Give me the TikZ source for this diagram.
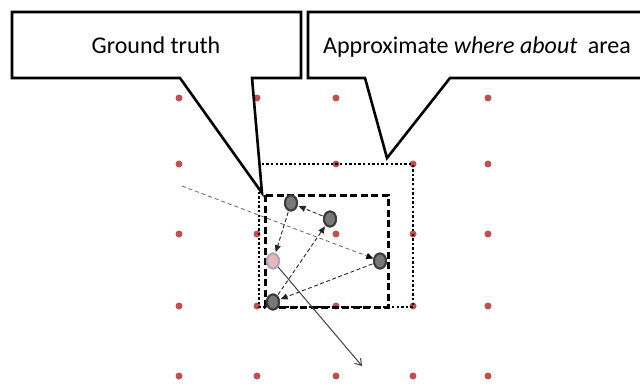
\documentclass[tikz,border=0pt]{standalone}
\usepackage{fontspec}
\setmainfont{Carlito}
\usetikzlibrary{shapes.geometric,arrows.meta}
\definecolor{dotred}{RGB}{192,80,77}
\definecolor{nodegray}{RGB}{120,120,120}
\definecolor{nodeedge}{RGB}{60,60,60}
\definecolor{pinkfill}{RGB}{230,185,184}
\definecolor{lavender}{RGB}{179,162,199}
\tikzset{
  reddot/.style={circle,fill=dotred,inner sep=0pt,minimum size=7pt},
  graynode/.style={ellipse,draw=nodeedge,fill=nodegray,line width=2pt,inner sep=0pt,minimum width=12pt,minimum height=15pt},
  pinknode/.style={ellipse,draw=lavender,fill=pinkfill,line width=2pt,inner sep=0pt,minimum width=12pt,minimum height=15pt},
  dasharrow/.style={draw=black!85,line width=0.9pt,dash pattern=on 4pt off 2.5pt,-{Triangle[length=7pt,width=6pt]},shorten >=1pt,shorten <=1pt},
  longdash/.style={draw=black!60,line width=0.8pt,dash pattern=on 4pt off 3pt,-{Triangle[length=7pt,width=6pt,color=black]}},
  solidarrow/.style={draw=black!75,line width=1pt,-{Straight Barb[length=6pt,width=8pt]}},
  callout/.style={draw=black,fill=white,line width=2.6pt,line join=miter},
  labeltext/.style={font=\fontsize{24}{28}\selectfont,inner sep=0pt,anchor=base},
}
\begin{document}
\begin{tikzpicture}[x=1pt,y=-1pt]
\useasboundingbox (0,0) rectangle (640,383);
\begin{scope}
\clip (0,0) rectangle (640,383);
% grid of red dots
\foreach \gx [count=\i] in {179,257,336,413,488}{
  \foreach \gy [count=\j] in {98,164,234,306,376}{
    \node[reddot] (d\i\j) at (\gx,\gy) {};
  }
}
% dotted area
\draw[line width=2.8pt,dash pattern=on 2.4pt off 2.2pt] (259,164) rectangle (413,307);
% dashed area
\draw[line width=3pt,dash pattern=on 7pt off 3.5pt] (265,195) rectangle (388,307);
% nodes
\node[graynode] (A) at (291,203) {};
\node[graynode] (B) at (330,219) {};
\node[graynode] (C) at (380,261) {};
\node[graynode] (D) at (273,302) {};
\node[pinknode] (P) at (273,261) {};
\coordinate (s) at (182,186);
\coordinate (e) at (362,366);
% connectors
\draw[longdash] (s) -- (C);
\draw[dasharrow] (B) -- (A);
\draw[dasharrow] (A) -- (P);
\draw[dasharrow] (D) -- (B);
\draw[dasharrow] (C) -- (D);
\draw[solidarrow] (P) -- (e);
% redraw nodes on top
\node[graynode] at (A) {};
\node[graynode] at (B) {};
\node[graynode] at (C) {};
\node[graynode] at (D) {};
\node[pinknode] at (P) {};
% callouts
\draw[callout] (12,12) -- (301,12) -- (301,78) -- (252,78) -- (262,193) -- (180,78) -- (12,78) -- cycle;
\draw[callout] (308,12) -- (650,12) -- (650,78) -- (450,78) -- (387,158) -- (365,78) -- (308,78) -- cycle;
\node[labeltext] (gt) at (156,53) {Ground truth};
\node[labeltext,anchor=base west] (ap) at (323,53) {Approximate \textit{where about\/}\hspace{5pt} area};
\end{scope}
\end{tikzpicture}
\end{document}
